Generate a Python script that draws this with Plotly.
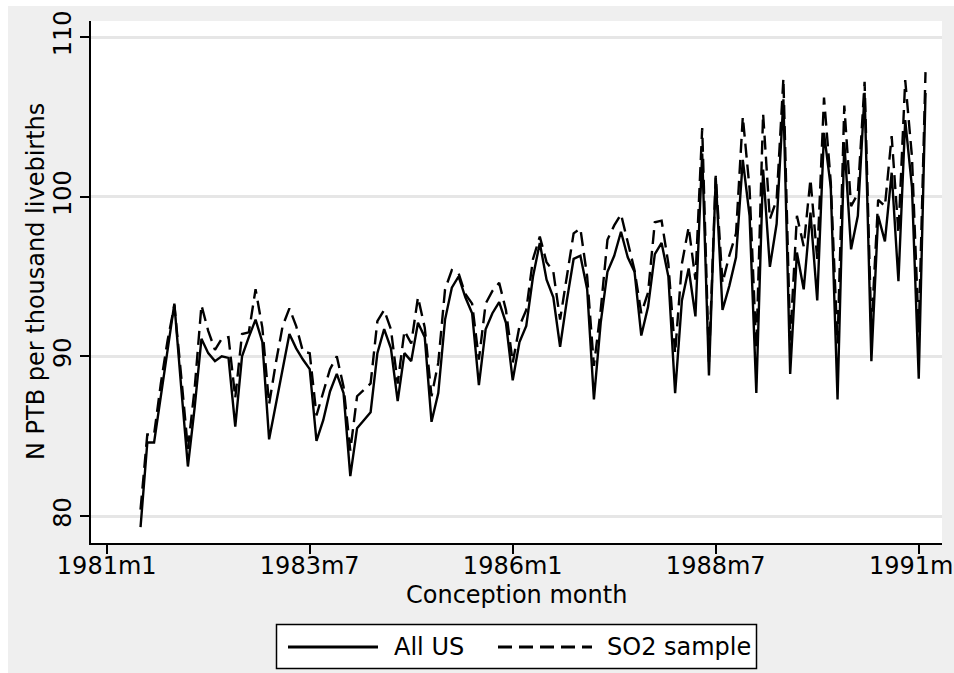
import plotly.graph_objects as go

# ---- data ----
first_month_index = 5  # months since 1981m1 -> 1981m6
all_us = [
    79.3, 84.6, 84.6, 87.4, 90.3, 93.3, 88.1, 83.1, 86.8, 91.1,
    90.2, 89.7, 90.0, 89.9, 85.6, 90.0, 91.2, 92.3, 90.9, 84.8,
    87.0, 89.3, 91.4, 90.5, 89.8, 89.2, 84.7, 86.0, 87.8, 88.9,
    87.7, 82.5, 85.5, 86.0, 86.5, 90.2, 91.7, 90.5, 87.2, 90.2,
    89.7, 92.1, 91.2, 85.9, 87.7, 92.3, 94.3, 95.0, 93.7, 92.7,
    88.2, 91.7, 92.7, 93.4, 92.1, 88.5, 90.9, 91.9, 95.0, 97.1,
    94.8, 93.7, 90.6, 93.5, 96.1, 96.3, 94.2, 87.3, 92.1, 95.3,
    96.3, 97.8, 96.2, 95.3, 91.3, 93.1, 96.4, 97.1, 95.0, 87.7,
    93.5, 95.5, 92.5, 102.7, 88.8, 101.2, 92.9, 94.4, 96.2, 102.3,
    98.8, 87.7, 101.7, 95.6, 98.3, 106.1, 88.9, 96.5, 94.2, 99.0,
    93.5, 104.0, 100.6, 87.3, 103.4, 96.7, 98.8, 106.5, 89.7, 98.8,
    97.2, 101.5, 94.7, 104.8, 100.6, 88.6, 106.5,
]
so2_sample = [
    80.4, 85.1, 85.1, 88.3, 91.0, 93.2, 88.8, 84.2, 88.0, 93.2,
    91.6, 90.4, 91.1, 91.2, 87.4, 91.4, 91.5, 94.2, 91.8, 87.0,
    89.6, 91.9, 93.0, 91.9, 90.3, 90.2, 86.3, 87.7, 89.2, 90.0,
    88.1, 84.1, 87.5, 87.9, 88.3, 92.2, 92.9, 91.7, 88.3, 91.6,
    90.8, 93.7, 91.8, 87.5, 89.6, 94.2, 95.4, 95.2, 93.9, 93.3,
    89.8, 93.3, 94.1, 94.6, 92.9, 89.6, 91.9, 92.9, 96.1, 97.5,
    95.9, 95.3, 92.3, 95.0, 97.7, 98.0, 95.0, 89.4, 92.9, 97.3,
    98.2, 98.9, 97.1, 95.4, 92.7, 94.0, 98.4, 98.5, 95.8, 90.2,
    95.8, 98.1, 94.8, 104.3, 89.6, 101.3, 94.6, 96.3, 97.7, 105.0,
    100.5, 90.5, 105.2, 98.6, 99.8, 107.4, 91.0, 98.8, 96.9, 101.1,
    96.1, 106.2, 100.9, 90.8, 105.7, 99.4, 100.2, 107.2, 91.6, 99.8,
    99.4, 103.8, 97.7, 107.3, 102.5, 91.5, 107.8,
]
x_tick_vals = [0, 30, 60, 90, 120]
x_tick_text = ["1981m1", "1983m7", "1986m1", "1988m7", "1991m1"]
y_tick_vals = [80, 90, 100, 110]
series_names = ["All US", "SO2 sample"]

months = list(range(first_month_index, first_month_index + len(all_us)))

# ---- layout geometry (pixels) ----
W, H = 954, 673
L, R, T, B = 91, 942, 21, 543
pw, ph = R - L, B - T


def px(xp):
    return (xp - L) / pw


def py(yp):
    return (B - yp) / ph


FONT = "DejaVu Sans"
LW = 2.4
DASH = "14px,7px"

fig = go.Figure()
fig.add_trace(go.Scatter(x=months, y=all_us, mode="lines", name=series_names[0],
                         line=dict(color="black", width=LW), showlegend=False))
fig.add_trace(go.Scatter(x=months, y=so2_sample, mode="lines", name=series_names[1],
                         line=dict(color="black", width=LW, dash=DASH), showlegend=False))

shapes = [
    dict(type="rect", xref="paper", yref="paper", x0=px(8), x1=px(W + 5), y0=py(6), y1=py(H + 5),
         fillcolor="#efefef", line=dict(width=0), layer="below"),
    dict(type="rect", xref="paper", yref="paper", x0=0, x1=1, y0=0, y1=1,
         fillcolor="white", line=dict(width=0), layer="below"),
    # legend box
    dict(type="rect", xref="paper", yref="paper", x0=px(276.5), x1=px(756.5), y0=py(624.5), y1=py(668.5),
         fillcolor="white", line=dict(color="black", width=1.5)),
    dict(type="line", xref="paper", yref="paper", x0=px(288), x1=px(378), y0=py(647), y1=py(647),
         line=dict(color="black", width=3)),
    dict(type="line", xref="paper", yref="paper", x0=px(498), x1=px(592), y0=py(647), y1=py(647),
         line=dict(color="black", width=3, dash=DASH)),
]

annotations = [
    dict(text=series_names[0], xref="paper", yref="paper", x=px(392), y=py(647),
         xanchor="left", yanchor="middle", showarrow=False, font=dict(family=FONT, size=24, color="black")),
    dict(text=series_names[1], xref="paper", yref="paper", x=px(605), y=py(647),
         xanchor="left", yanchor="middle", showarrow=False, font=dict(family=FONT, size=24, color="black")),
    dict(text="Conception month", xref="paper", yref="paper", x=px(516), y=py(595),
         xanchor="center", yanchor="middle", showarrow=False, font=dict(family=FONT, size=24, color="black")),
    dict(text="N PTB per thousand livebirths", xref="paper", yref="paper", x=px(36), y=py(282),
         xanchor="center", yanchor="middle", textangle=-90, showarrow=False,
         font=dict(family=FONT, size=24, color="black")),
]

fig.update_layout(
    width=W, height=H,
    margin=dict(l=L, r=W - R, t=T, b=H - B, autoexpand=False),
    paper_bgcolor="white", plot_bgcolor="white",
    shapes=shapes, annotations=annotations,
    showlegend=False,
    font=dict(family=FONT, size=24, color="black"),
)
fig.update_xaxes(
    range=[(L - 106.7) / 6.767, (R - 106.7) / 6.767],
    tickmode="array", tickvals=x_tick_vals, ticktext=x_tick_text,
    ticks="outside", ticklen=9, tickwidth=1.5, tickcolor="black",
    ticklabeloverflow="allow", ticklabelstandoff=-9, automargin=False,
    showline=True, linecolor="black", linewidth=1.5,
    showgrid=False, zeroline=False,
    tickfont=dict(family=FONT, size=24, color="black"),
)
fig.update_yaxes(
    range=[80 - (B - 516) / 15.97, 110 + (37 - T) / 15.97],
    tickmode="array", tickvals=y_tick_vals, tickangle=-90, automargin=False,
    ticks="outside", ticklen=9, tickwidth=1.5, tickcolor="black",
    showline=True, linecolor="black", linewidth=1.5,
    showgrid=True, gridcolor="#e6e6e6", gridwidth=2.5, zeroline=False,
    tickfont=dict(family=FONT, size=24, color="black"),
)

fig.write_html("out.html")
